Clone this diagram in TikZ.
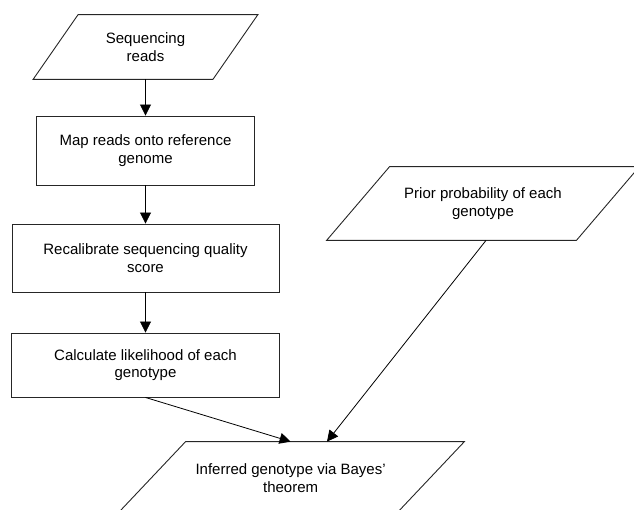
\documentclass[tikz,border=0pt]{standalone}
\usepackage{fontspec}
\setmainfont{Liberation Sans}
\usetikzlibrary{arrows.meta}
\tikzset{every picture/.style={line width=0.8pt}}
\tikzset{
  stepbox/.style={draw=black!85, line width=0.9pt, align=center, inner sep=0pt,
    font=\fontsize{15}{17.5}\selectfont},
  datatext/.style={align=center, inner sep=0pt, font=\fontsize{15}{17.5}\selectfont},
  datashape/.style={draw=black!85, line width=0.9pt},
  flow/.style={draw=black, -{Triangle[length=11pt,width=11pt]}}
}

\begin{document}
\begin{tikzpicture}[x=1pt,y=-1pt]
    \useasboundingbox (0,0) rectangle (634,509);

    % input reads
    \node[datatext, minimum width=179pt, minimum height=64pt] (reads) at (145.5,47) {Sequencing\\reads};
    \draw[datashape] ([xshift=22.5pt]reads.north west) -- ([xshift=22.5pt]reads.north east)
        -- ([xshift=-22.5pt]reads.south east) -- ([xshift=-22.5pt]reads.south west) -- cycle;

    % processing steps
    \node[stepbox, minimum width=218pt, minimum height=69pt] (map) at (145.5,150.5) {Map reads onto reference\\genome};
    \node[stepbox, minimum width=267pt, minimum height=68pt] (recal) at (145.5,258) {Recalibrate sequencing quality\\score};
    \node[stepbox, minimum width=268pt, minimum height=64pt] (calc) at (145.5,365) {Calculate likelihood of each\\genotype};

    % prior
    \node[datatext, minimum width=249pt, minimum height=73pt] (prior) at (483,203.5) {Prior probability of each\\genotype};
    \draw[datashape] ([xshift=31.5pt]prior.north west) -- ([xshift=31.5pt]prior.north east)
        -- ([xshift=-31.5pt]prior.south east) -- ([xshift=-31.5pt]prior.south west) -- cycle;

    % result
    \node[datatext, minimum width=278pt, minimum height=72pt] (bayes) at (290.6,478) {Inferred genotype via Bayes'\\theorem};
    \draw[datashape] ([xshift=34.4pt]bayes.north west) -- ([xshift=34.4pt]bayes.north east)
        -- ([xshift=-34.4pt]bayes.south east) -- ([xshift=-34.4pt]bayes.south west) -- cycle;

    % arrows
    \draw[flow] (reads.south) -- (map.north);
    \draw[flow] (map.south) -- (recal.north);
    \draw[flow] (recal.south) -- (calc.north);
    \draw[flow] (calc.south) -- (bayes.north);
    \draw[flow] ([xshift=3pt]prior.south) -- ([xshift=36.4pt]bayes.north);
\end{tikzpicture}
\end{document}
